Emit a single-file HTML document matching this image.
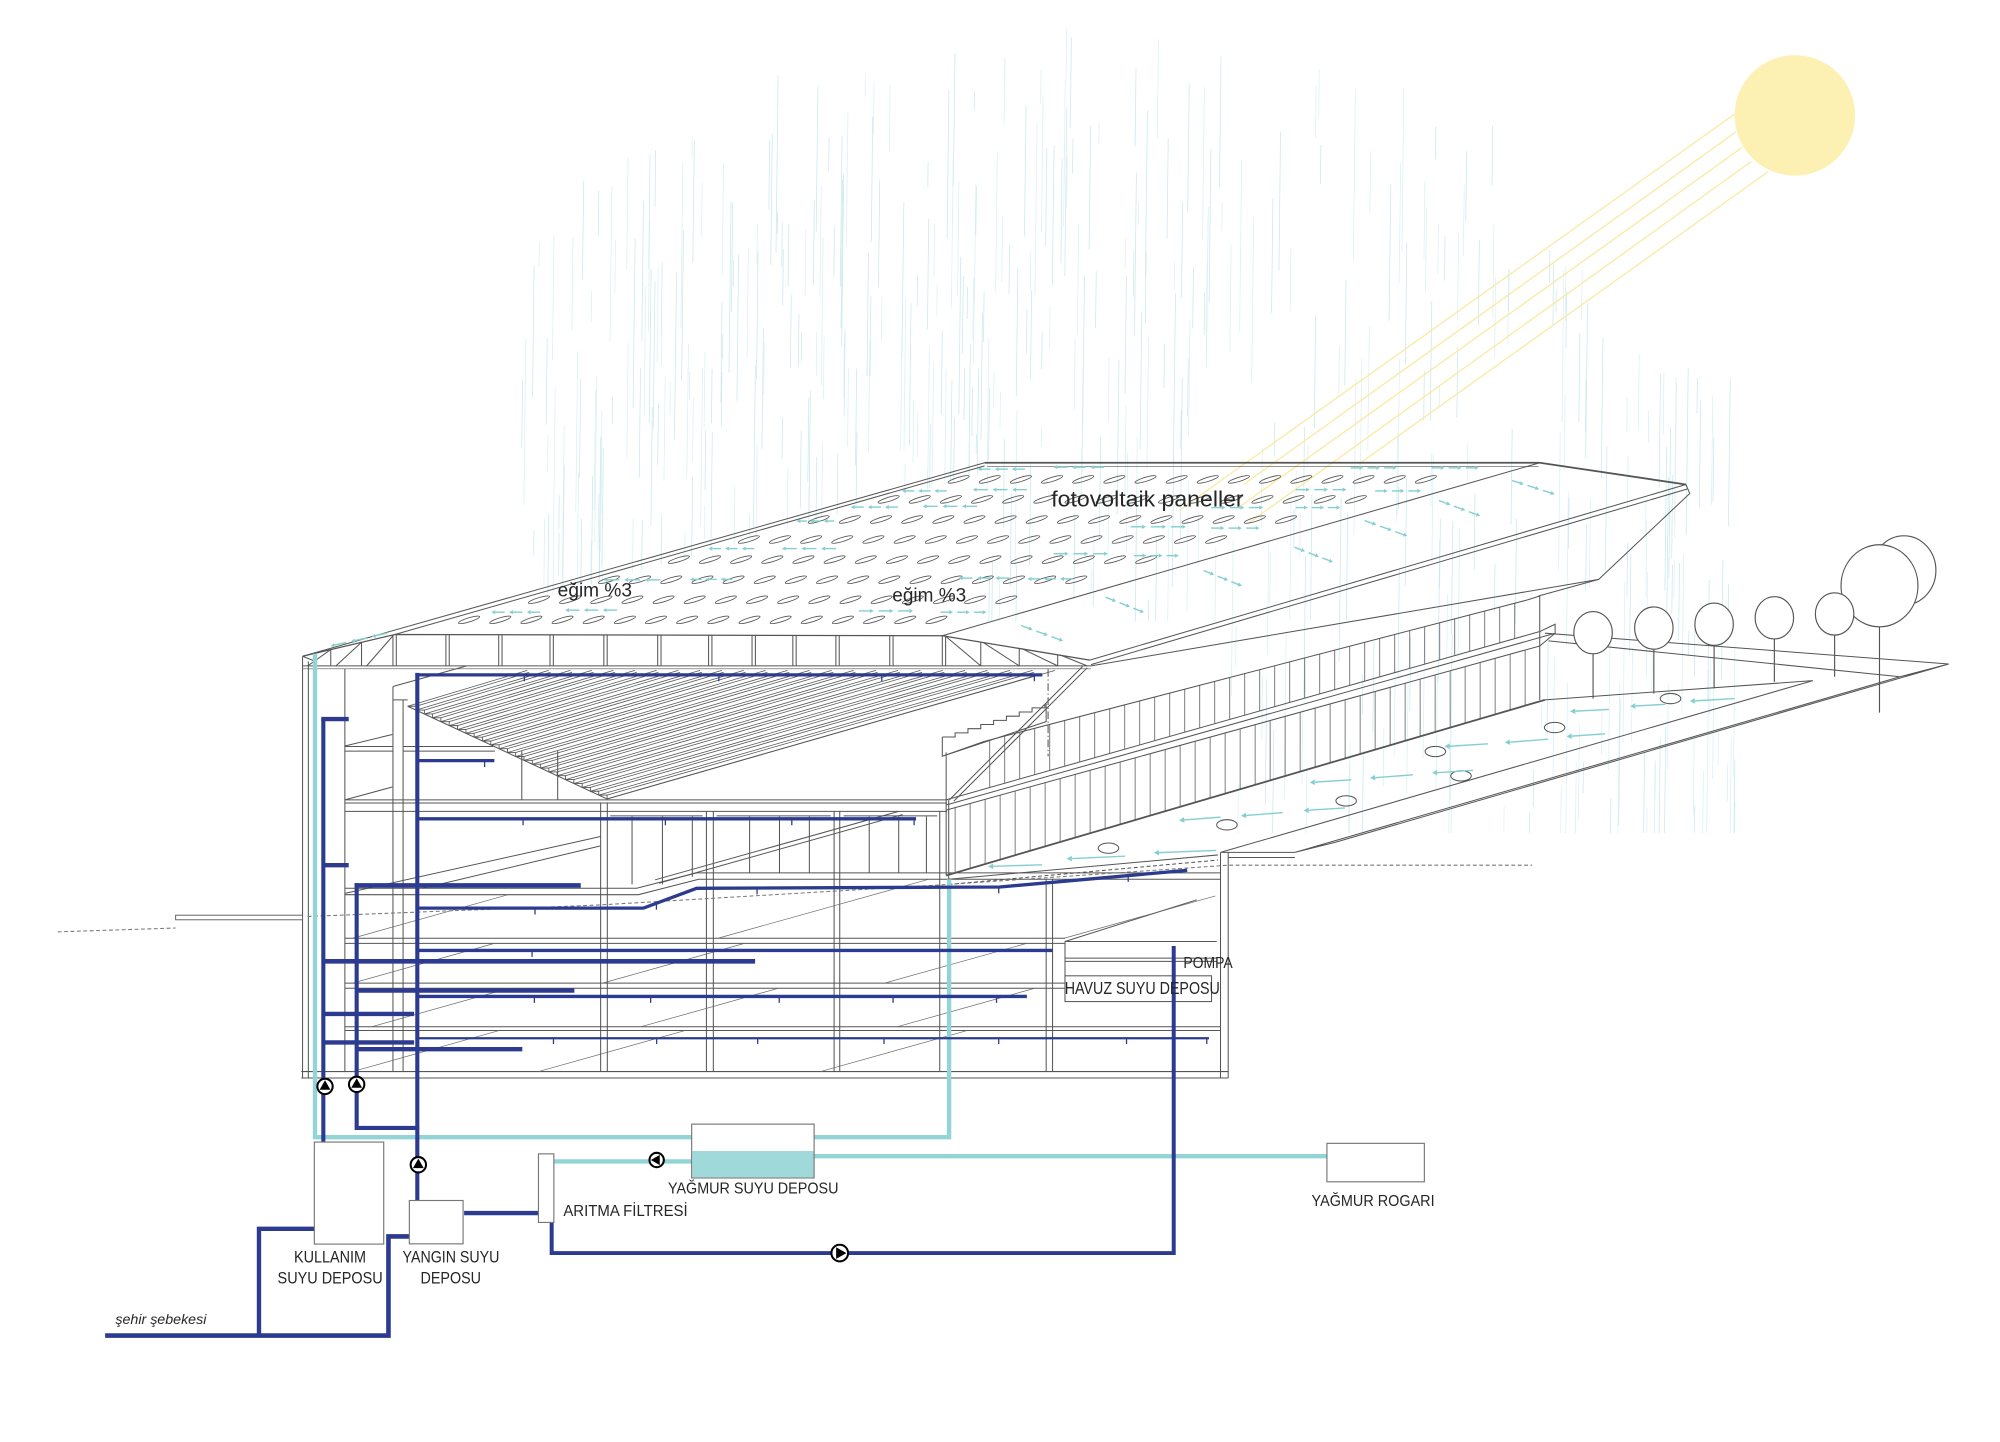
<!DOCTYPE html>
<html><head><meta charset="utf-8"><title>diagram</title>
<style>
html,body{margin:0;padding:0;background:#fff;width:2000px;height:1442px;overflow:hidden}
svg{display:block}
.t{font-family:"Liberation Sans",Arial,sans-serif;fill:#262626}
</style></head><body>
<svg id="s" xmlns="http://www.w3.org/2000/svg" width="2000" height="1442" viewBox="0 0 1560 1125" preserveAspectRatio="none">
<rect x="0" y="0" width="1560" height="1125" fill="#fff"/>

<!-- rain -->
<g id="rain" stroke="#cfeaed" stroke-width="0.6" fill="none"></g>

<!-- sun + rays -->
<g stroke="#fae9a0" stroke-width="1">
<line x1="1353" y1="89" x2="920" y2="398"/>
<line x1="1354" y1="103" x2="970" y2="378"/>
<line x1="1359" y1="115" x2="966" y2="396"/>
<line x1="1366" y1="126" x2="974" y2="408"/>
<line x1="1379" y1="134" x2="1060" y2="362"/>
</g>
<circle cx="1400" cy="90" r="47" fill="#fdf0b3"/>

<!-- ROOF -->
<g fill="none" stroke="#555" stroke-width="0.8">
<path d="M768,361 L1201,361 L1315,378" stroke-width="1.4"/>
<path d="M770,364 L1200,364" stroke-width="0.5"/>
<path d="M768,361 L236,512"/>
<path d="M768,363.5 L308,495"/>
<path d="M735,496 L1201,361"/>
<path d="M850,515 L1315,378"/>
<path d="M851,518.5 L1316,381.5"/>
<path d="M1315,378 L1318,385 L1247,452 L851,519.5"/>
<path d="M1247,452 L1200,465"/>
<!-- truss -->
<path d="M236,512 L308,495 L735,496 L850,515" stroke-width="1"/>
<path d="M236,519.5 H851"/>
<path d="M236,521.8 H851" stroke-width="0.5"/>
<path d="M306.5,495.5V519.5M309.1,495.5V519.5M347.8,495.5V519.5M350.4,495.5V519.5M389,495.5V519.5M391.6,495.5V519.5M429,495.5V519.5M431.6,495.5V519.5M471,495.5V519.5M473.6,495.5V519.5M513,495.5V519.5M515.6,495.5V519.5M552.7,495.5V519.5M555.3,495.5V519.5M586.6,495.5V519.5M589.2,495.5V519.5M618.4,495.5V519.5M621,495.5V519.5M652,495.5V519.5M654.6,495.5V519.5M694,495.5V519.5M696.6,495.5V519.5M735,496V519.5M737.6,496V519.5"/>
<path d="M258,506.8V519.5M282,501.1V519.5M240,519.5L258,506.8M262,519.5L282,501.1M286,519.5L306.5,496"/>
<path d="M765,501V519.5M795,505.9V519.5M825,510.9V519.5M737.6,496.4L765,519.5M767,501.3L795,519.5M797,506L825,519.5M827,511L848,519.5"/>
</g>

<!-- PV ellipses -->
<g id="pv" fill="none" stroke="#555" stroke-width="0.65"></g>

<!-- SECTION -->
<g fill="none" stroke="#555" stroke-width="0.8">
<path d="M236,512 V841 M240.5,516 V841 M236,512 L246,516 V521"/>
<path d="M269,521.5 V836"/>
<path d="M306.5,535.6 V836 M314.4,546 V836 M306.5,535.6 L364,519.5 M306.5,546 H318"/>
<path d="M235,836 H958 M235,841 H958"/>
<path d="M952,665 V841 M958,665 V841"/>
<!-- slabs -->
<path d="M269,582.4 H306.5 M269,586 H306.5 M314.4,582.4 H384.7 M314.4,586 H386"/>
<path d="M269,624 H738.7 M269,626.5 H738.7 M269,633 H738.7"/>
<path d="M269,693 H473.5 L496.6,693 L543.4,681 H952 M269,698 H473.5 L498,698 L545,686 H952"/>
<path d="M269,732 H830.7 M269,736 H830.7"/>
<path d="M830.7,734.5 H949 M830.7,747.5 H949 M830.7,750 H949"/>
<path d="M269,767 H830.7 M269,771 H830.7"/>
<path d="M269,801 H952 M269,804 H952"/>
<path d="M407,586 V624 M435,586 V624"/>
<!-- columns -->
<path d="M468.5,626 V836 M473.7,626 V836 M551,633 V836 M556.4,633 V836 M650.6,633 V836 M655,633 V836 M733,633 V836 M740,624 V836 M816,686 V836 M821,686 V836 M830.7,734.5 V781"/>
<!-- ground floor mullions -->
<path d="M476,636.5 H548 M559,636.5 H648 M658,636.5 H731"/>
<path d="M493,637 V690 M516.7,637 V690 M540,637 V684 M584.7,637 V681 M608,637 V681 M631.3,637 V681 M678,637 V681 M701,637 V681 M722.6,637 V681"/>
<!-- ramp -->
<path d="M511,686.4 L701,633 M514,689 L704,635.5"/>
<path d="M269,697 L468.5,652.6 M330,693 L468,660 M269,624 L306,614 M269,582 L306,573"/>
<!-- tank -->
<path d="M830.7,734.5 L933.5,702"/>
<!-- atrium frame -->
<path d="M318,551 L473.5,623.3 L805,528"/>
</g>
<g id="atr" fill="none" stroke="#555" stroke-width="0.6"></g>
<g id="diag" fill="none" stroke="#6a6a6a" stroke-width="0.55"></g>
<rect x="830.7" y="761.3" width="114.3" height="20.1" fill="#fff" stroke="#555" stroke-width="0.8"/>
<rect x="137" y="714" width="99" height="3.6" fill="#fff" stroke="#555" stroke-width="0.7"/>

<!-- FACADE / right wing -->
<g fill="none" stroke="#555" stroke-width="0.8">
<path d="M767.5,578.5 L1191.5,468 M738,624 L1201,492.7 M1201,492.7 L1213,487 L1213,494 L1201,504 M738,628 L1213,494 M738,632 L1201,504"/>
<path d="M738,683 L1205,546" stroke-width="1.4"/>
<path d="M738,587 V683 M1201,465 V546 M1191.5,468 L1201,465"/>
<path d="M735,575 h10 v-3.25 h10 v-3.25 h10 v-3.25 h10 v-3.25 h10 v-3.25 h10 v-3.25 h10 v-3.25 h10 v-3.25 M735,575 V590 L816,563 V549 M735,590 L767.5,578.5"/>
<path d="M844.4,520 L740.5,624 M848,521 L744,625"/>
<path d="M817.5,522 V590" stroke-dasharray="6 2 1 2"/>
<!-- terrace -->
<path d="M1205,494 L1520,518 M1208,500 L1482,528 M1520,518 L1482,528 M1520,518 L1042,657 M1482,528 L1010,665 M1205,546 L1414,531 M1414,531 L952,665 M952,665 H1010 M958,669 H1010 M1010,665 L1042,657"/>
<path d="M740,686 L950,667"/>
<path d="M740,690 L950,671" stroke-dasharray="3 2"/>
</g>
<g id="fac" fill="none" stroke="#555" stroke-width="0.6"></g>

<!-- pool circles -->
<g fill="none" stroke="#555" stroke-width="0.8">
<ellipse cx="1303" cy="545" rx="8" ry="4"/>
<ellipse cx="1212.6" cy="567.6" rx="8" ry="4"/>
<ellipse cx="1119.6" cy="586.3" rx="8" ry="4"/>
<ellipse cx="1139.6" cy="605.3" rx="8" ry="4"/>
<ellipse cx="1050" cy="624.8" rx="8" ry="4"/>
<ellipse cx="957" cy="643.5" rx="8" ry="4"/>
<ellipse cx="864.6" cy="661.7" rx="8" ry="4"/>
</g>

<!-- trees -->
<g fill="#fff" stroke="#555" stroke-width="0.9">
<path d="M1242.6,509.6 V545 M1290,506 V541 M1337,503 V537 M1384,498 V532 M1431,495 V528 M1466,488.5 V556" fill="none"/>
<ellipse cx="1485" cy="445" rx="25" ry="27"/>
<ellipse cx="1466" cy="457" rx="30" ry="32"/>
<ellipse cx="1242.6" cy="493.6" rx="15" ry="16.5"/>
<ellipse cx="1290" cy="490" rx="15" ry="16.5"/>
<ellipse cx="1337" cy="487" rx="15" ry="16.5"/>
<ellipse cx="1384" cy="482" rx="15" ry="16.5"/>
<ellipse cx="1431" cy="479" rx="15" ry="16.5"/>
</g>

<!-- ground dashed line -->
<path d="M45,727 L137,724 M240,715 L468,706 L740,690 L958,675 L1195,675" fill="none" stroke="#777" stroke-width="0.8" stroke-dasharray="3 2"/>

<!-- cyan arrows -->
<g id="arr" stroke="#86cfd1" fill="#86cfd1" stroke-width="1.1"></g>

<!-- CYAN PIPES -->
<g fill="none" stroke="#93d5d6" stroke-width="3.4">
<path d="M245.7,510 V887.2 H740.3 V686"/>
<path d="M432,906.1 H540"/>
<path d="M635,902 H1036"/>
</g>

<!-- BLUE PIPES -->
<g fill="none" stroke="#2c3b8f">
<path d="M252.2,561 V891.5" stroke-width="3.2"/>
<path d="M250.6,561 H272" stroke-width="3.4"/>
<path d="M252,675 H272" stroke-width="3.4"/>
<path d="M252,750 H589" stroke-width="3.6"/>
<path d="M252,791 H323" stroke-width="3.4"/>
<path d="M252,813.3 H323" stroke-width="3.4"/>
<path d="M278.2,689 V880 H327" stroke-width="3.2"/>
<path d="M276.6,690.8 H453" stroke-width="3.6"/>
<path d="M278,772.8 H448" stroke-width="3.4"/>
<path d="M278,818.5 H407.4" stroke-width="3.4"/>
<path d="M325.5,525 V937" stroke-width="3.2"/>
<path d="M324,526.5 H813" stroke-width="2.6"/>
<path d="M325.5,593.4 H385.6" stroke-width="2.6"/>
<path d="M325.5,638.8 H714.5" stroke-width="2.6"/>
<path d="M325.5,708.5 H501.8 L543.4,693 L780,692 L926,679" stroke-width="2.6"/>
<path d="M325.5,741.5 H821" stroke-width="2.6"/>
<path d="M325.5,777.4 H801" stroke-width="2.6"/>
<path d="M325.5,810 H943" stroke-width="1.7"/>
<path d="M362,946.4 H421" stroke-width="3.4"/>
<path d="M245.5,958.7 H202 V1042" stroke-width="3.4"/>
<path d="M82,1042 H303 V964.6 H320" stroke-width="3.6"/>
<path d="M430.3,953.7 V977.6 H915.5 V738" stroke-width="3.1"/>
<g stroke-width="1">
<path d="M409,526.5v5M560.7,526.5v5M687.8,526.5v5M806.8,526.5v5"/>
<path d="M378,593.4v5"/>
<path d="M408,638.8v5M519,638.8v5M617.6,638.8v5M713,638.8v5"/>
<path d="M417.3,708.5v5M512,704.7v5M590.5,692.8v5M779,692v5M880,683v5"/>
<path d="M415,741.5v5"/>
<path d="M416.8,777.4v5M507.5,777.4v5M607.8,777.4v5M696.6,777.4v5M777.3,777.4v5"/>
<path d="M431.7,810v4.5M512.2,810v4.5M591,810v4.5M689.5,810v4.5M779,810v4.5M878.7,810v4.5M941.3,810v4.5"/>
</g>
</g>

<!-- boxes -->
<g fill="#fff" stroke="#777" stroke-width="0.9">
<rect x="245.2" y="891" width="54.1" height="79.6"/>
<rect x="319.3" y="936.6" width="41.9" height="33.8"/>
<rect x="420" y="900.2" width="12" height="53.5"/>
<rect x="539.5" y="877" width="95.5" height="42"/>
<rect x="1035" y="892" width="76" height="30"/>
</g>
<rect x="540" y="898" width="94.5" height="20.5" fill="#9fd9d9"/>

<!-- pumps -->
<g stroke="#000" stroke-width="1.6">
<g transform="translate(253.5,847.6)"><circle r="6" fill="#fff"/><path d="M0,-4.8 L4.2,2.6 L-4.2,2.6Z" fill="#000" stroke="none"/></g>
<g transform="translate(278.2,846)"><circle r="6" fill="#fff"/><path d="M0,-4.8 L4.2,2.6 L-4.2,2.6Z" fill="#000" stroke="none"/></g>
<g transform="translate(326.3,908.7)"><circle r="6" fill="#fff"/><path d="M0,-4.8 L4.2,2.6 L-4.2,2.6Z" fill="#000" stroke="none"/></g>
<g transform="translate(512.2,905) rotate(-90)"><circle r="5.6" fill="#fff"/><path d="M0,-4.5 L4,2.4 L-4,2.4Z" fill="#000" stroke="none"/></g>
<g transform="translate(655,977.6) rotate(90)"><circle r="6.5" fill="#fff"/><path d="M0,-5.2 L4.5,2.8 L-4.5,2.8Z" fill="#000" stroke="none"/></g>
</g>

<!-- TEXT -->
<text class="t" x="820" y="395" font-size="17" textLength="150" lengthAdjust="spacingAndGlyphs">fotovoltaik paneller</text>
<text class="t" x="435" y="465.4" font-size="15" textLength="58" lengthAdjust="spacingAndGlyphs">eğim %3</text>
<text class="t" x="696" y="469.4" font-size="15" textLength="57.6" lengthAdjust="spacingAndGlyphs">eğim %3</text>
<text class="t" x="923" y="755.3" font-size="12" textLength="38.5" lengthAdjust="spacingAndGlyphs">POMPA</text>
<text class="t" x="830.5" y="775.4" font-size="13.5" textLength="121" lengthAdjust="spacingAndGlyphs">HAVUZ SUYU DEPOSU</text>
<text class="t" x="521" y="931" font-size="12.5" textLength="133" lengthAdjust="spacingAndGlyphs">YAĞMUR SUYU DEPOSU</text>
<text class="t" x="439.4" y="948.5" font-size="12.5" textLength="97" lengthAdjust="spacingAndGlyphs">ARITMA FİLTRESİ</text>
<text class="t" x="1023" y="941" font-size="12.5" textLength="96" lengthAdjust="spacingAndGlyphs">YAĞMUR ROGARI</text>
<text class="t" x="229.3" y="985" font-size="12.7" textLength="56.2" lengthAdjust="spacingAndGlyphs">KULLANIM</text>
<text class="t" x="216.5" y="1001.5" font-size="12.7" textLength="82" lengthAdjust="spacingAndGlyphs">SUYU DEPOSU</text>
<text class="t" x="314" y="985" font-size="12.7" textLength="75.5" lengthAdjust="spacingAndGlyphs">YANGIN SUYU</text>
<text class="t" x="328" y="1001.5" font-size="12.7" textLength="47.2" lengthAdjust="spacingAndGlyphs">DEPOSU</text>
<text class="t" x="90" y="1033" font-size="10.5" font-style="italic" textLength="71" lengthAdjust="spacingAndGlyphs">şehir şebekesi</text>
</svg>

<script>
(function(){
var NS="http://www.w3.org/2000/svg";
function el(p,t,a){var e=document.createElementNS(NS,t);for(var k in a)e.setAttribute(k,a[k]);p.appendChild(e);return e;}
var seed=987654;function rnd(){seed=(seed*16807)%2147483647;return (seed-1)/2147483646;}
function interp(pts,x){for(var i=0;i<pts.length-1;i++){if(x>=pts[i][0]&&x<=pts[i+1][0]){var t=(x-pts[i][0])/(pts[i+1][0]-pts[i][0]);return pts[i][1]+t*(pts[i+1][1]-pts[i][1]);}}return pts[pts.length-1][1];}
function f(v){return (+v).toFixed(1);}

/* rain */
var rain=document.getElementById('rain');
var tp=[[400,250],[420,190],[450,140],[520,105],[600,60],[700,30],[800,18],[900,28],[1000,35],[1100,45],[1150,70],[1200,160],[1260,230],[1300,270],[1360,300]];
function bot(x){if(x<770)return 361+0.284*(768-x)+8;if(x<950)return 485;return 650;}
for(var i=0;i<460;i++){
  var x=405+rnd()*950;var t=interp(tp,x);var b=bot(x);
  var y1=t+rnd()*Math.max(5,(b-t-15));var len=15+rnd()*120;var y2=Math.min(b,y1+len);
  el(rain,'line',{x1:f(x),y1:f(y1),x2:f(x-(y2-y1)*0.012),y2:f(y2),stroke:(rnd()<0.5?'#cbe9ec':'#dcf1f3')});
}

/* PV ellipses */
var eg=document.getElementById('pv');
for(var r=0;r<8;r++){
  var y=374+r*15.65;var xl=308+(495-y)*3.485+18;var xr=735+3.45*(496-y)-30;
  for(var x=xl;x<=xr;x+=24.3){el(eg,'ellipse',{cx:f(x),cy:f(y),rx:8.6,ry:1.6,transform:'rotate(-17 '+f(x)+' '+f(y)+')'});}
}

/* facade stripes */
var fg=document.getElementById('fac');
function ly(p,q,x){return p[1]+(q[1]-p[1])*(x-p[0])/(q[0]-p[0]);}
var ut=[[767.5,578.5],[1191.5,468]],ub=[[738,624],[1201,492.7]];
for(var x=772;x<1190;x+=11.7){el(fg,'line',{x1:f(x),y1:f(ly(ut[0],ut[1],x)),x2:f(x),y2:f(ly(ub[0],ub[1],x))});}
var lt=[[738,632],[1201,504]],lb=[[738,683],[1205,546]];
for(var x=745;x<1200;x+=11.7){el(fg,'line',{x1:f(x),y1:f(ly(lt[0],lt[1],x)),x2:f(x),y2:f(ly(lb[0],lb[1],x))});}

/* atrium sawtooth */
var ag=document.getElementById('atr');
var E0=[318,551],E1=[473.5,623.3],N=24;
var d='M'+E0[0]+','+E0[1];
for(var i=0;i<=N;i++){
  var t=i/N;var px=E0[0]+t*(E1[0]-E0[0]),py=E0[1]+t*(E1[1]-E0[1]);var s=0.30-0.013*t;var yt=523;
  el(ag,'line',{x1:f(px),y1:f(py),x2:f(px+(py-yt)/s),y2:yt});
  if(i<N){var qx=px+(E1[0]-E0[0])/N;
    el(ag,'line',{x1:f(qx),y1:f(py),x2:f(qx+(py-yt-1.5)/s),y2:yt+1.5});
    d+=' L'+f(px)+','+f(py)+' L'+f(qx)+','+f(py)+' L'+f(qx)+','+f(py+(E1[1]-E0[1])/N);}
}
el(ag,'path',{d:d,'stroke-width':0.7});

/* floor diagonals (longer, spanning bays) */
var dg=document.getElementById('diag');
var bands=[[698,732,[[275,0],[560,686],[830,686]]],[736,767,[[275,0],[470,0],[690,0]]],[771,801,[[290,0],[500,0],[700,0]]],[804,836,[[275,0],[420,0],[640,0]]]];
for(var bi=0;bi<bands.length;bi++){
  var bd=bands[bi];
  for(var k=0;k<bd[2].length;k++){
    var x0=bd[2][k][0],top=bd[2][k][1]||bd[0],y0=bd[1];
    var x1=x0+(y0-top)/0.28;if(x1>948){x1=948;}
    var y1=y0-(x1-x0)*0.28;
    el(dg,'line',{x1:f(x0),y1:f(y0),x2:f(x1),y2:f(y1)});
  }
}

/* cyan arrows */
var ar=document.getElementById('arr');
function arrow(x1,y1,x2,y2,h){
  var dx=x2-x1,dy=y2-y1,L=Math.sqrt(dx*dx+dy*dy),ux=dx/L,uy=dy/L;h=h||3;
  var bx=x2-ux*h,by=y2-uy*h,px=-uy*h*0.55,py=ux*h*0.55;
  el(ar,'line',{x1:f(x1),y1:f(y1),x2:f(bx),y2:f(by)});
  el(ar,'path',{d:'M'+f(x2)+','+f(y2)+'L'+f(bx+px)+','+f(by+py)+'L'+f(bx-px)+','+f(by-py)+'Z',stroke:'none'});
}
function group(xa,ya,xb,yb,n,headStart){
  for(var k=0;k<n;k++){
    var t0=(k+0.12)/n,t1=(k+0.88)/n;
    var ax=xa+(xb-xa)*t0,ay=ya+(yb-ya)*t0,bx=xa+(xb-xa)*t1,by=ya+(yb-ya)*t1;
    if(headStart)arrow(bx,by,ax,ay,3);else arrow(ax,ay,bx,by,3);
  }
}
var L=[[761,801,366],[820,863,364.5],[702,740,383],[757,803,382],[662,702,395.6],[718,764,395],[620,652,406.5],[551,590,428],[608,654,428],[469,517,452.4],[536.7,572.6,452],[746,789,451],[800,838,451.6],[381.6,423,477.6],[439,483,476]];
for(var i=0;i<L.length;i++)group(L[i][0],L[i][2],L[i][1],L[i][2],3,true);
var R=[[1052,1091,365],[1115,1155,365],[1009,1052,382],[1071,1110,383],[943,987,396],[1009,1047,396],[880,927,411],[943,984,412],[820,866,432],[883,921,433.5],[668,714,476.6],[732,771,477.6]];
for(var i=0;i<R.length;i++)group(R[i][0],R[i][2],R[i][1],R[i][2],3,false);
var D=[[1178,374.4,1214,386],[1121,390,1156,403],[1063,405.6,1099,418.6],[1008.5,426.5,1041,439],[937.5,444.6,970,457.6],[861,465.4,893.6,478.3],[795,487.5,830.7,500.5]];
for(var i=0;i<D.length;i++)group(D[i][0],D[i][1],D[i][2],D[i][3],3,false);
group(256,504.4,304,493.5,3,true);
var P=[[1126.7,582.4,1160.6,580.3],[1173.7,579.3,1207.5,576.7],[1117,603,1149,601],[1068.6,607,1102,604.5],[1021.6,610.5,1054,608.4],[1016.8,632.4,1049,630.3],[968,636.5,1000.5,634],[919.7,640,952,637.5],[900,665.4,948.5,663.5],[832,670,877.6,668],[770.7,676,812.8,674.7],[1318,547,1353,545],[1271.5,551,1299,549.5],[1224.7,555,1255,553.5],[1222,574.6,1252,572.5]];
for(var i=0;i<P.length;i++)arrow(P[i][2],P[i][3],P[i][0],P[i][1],4);
})();
</script>
</body></html>
